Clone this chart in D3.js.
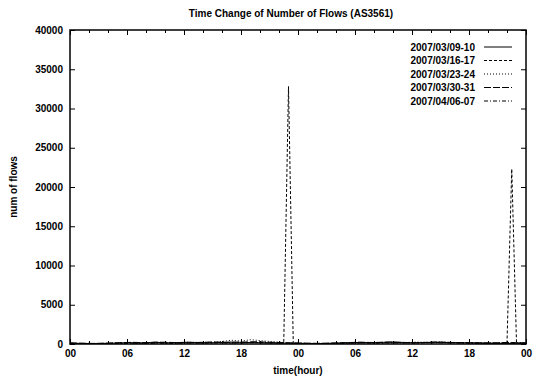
<!DOCTYPE html>
<html>
<head>
<meta charset="utf-8">
<script src="https://cdn.jsdelivr.net/npm/d3@7"></script>
<style>
  body { margin: 0; background: #fff; }
  svg text { font-family: "Liberation Sans", Arial, sans-serif; fill: #000; }
</style>
</head>
<body>
<div id="chart"></div>
<script>
// series names (legend order)
const seriesNames = ['2007/03/09-10', '2007/03/16-17', '2007/03/23-24', '2007/03/30-31', '2007/04/06-07'];

// samples every 30 minutes, 0..48 hours (97 points per series)
const s0309 = [
  120, 95, 80, 70, 65, 60, 70, 85, 90, 110, 130, 150,
  180, 160, 140, 150, 170, 200, 240, 180, 160, 150, 170, 190,
  210, 230, 200, 190, 180, 170, 160, 180, 200, 220, 250, 230,
  210, 190, 180, 170, 160, 150, 140, 130, 120, 110, 100, 95,
  90, 80, 75, 70, 65, 70, 80, 95, 110, 130, 150, 170,
  180, 200, 190, 170, 160, 180, 210, 230, 250, 220, 200, 180,
  170, 160, 180, 190, 210, 230, 220, 200, 190, 180, 170, 160,
  150, 140, 130, 120, 110, 100, 95, 90, 85, 80, 90, 100,
  110
];
const s0316 = [
  60, 55, 50, 45, 40, 45, 50, 60, 70, 80, 90, 100,
  110, 120, 100, 90, 110, 130, 150, 140, 120, 110, 100, 120,
  140, 160, 150, 130, 120, 140, 160, 180, 170, 150, 140, 130,
  150, 170, 190, 210, 180, 160, 150, 140, 130, 120, 32800, 150,
  90, 70, 60, 55, 50, 55, 60, 70, 80, 95, 110, 120,
  130, 140, 150, 160, 150, 140, 130, 150, 170, 180, 160, 150,
  140, 150, 160, 170, 180, 190, 200, 180, 160, 150, 140, 130,
  120, 110, 100, 90, 80, 90, 100, 120, 140, 22300, 150, 110,
  100
];
const s0323 = [
  80, 70, 60, 50, 45, 40, 45, 55, 70, 85, 100, 110,
  130, 150, 140, 120, 130, 150, 170, 160, 150, 140, 160, 180,
  200, 220, 210, 190, 180, 200, 220, 260, 320, 400, 480, 420,
  380, 460, 540, 500, 430, 380, 330, 280, 240, 200, 160, 130,
  110, 90, 80, 70, 65, 60, 70, 80, 90, 100, 120, 140,
  160, 180, 170, 150, 160, 180, 200, 190, 170, 160, 180, 200,
  220, 240, 230, 210, 200, 220, 240, 230, 210, 190, 180, 170,
  160, 150, 140, 130, 120, 110, 100, 120, 140, 160, 130, 110,
  100
];
const s0330 = [
  150, 130, 110, 95, 85, 80, 85, 95, 110, 130, 150, 170,
  190, 210, 200, 180, 170, 190, 210, 230, 220, 200, 190, 180,
  170, 160, 180, 200, 220, 240, 260, 250, 230, 210, 200, 220,
  240, 260, 280, 300, 270, 250, 230, 210, 190, 170, 150, 130,
  120, 110, 100, 90, 85, 90, 100, 115, 130, 150, 170, 190,
  210, 230, 220, 200, 190, 210, 230, 250, 240, 220, 200, 190,
  180, 170, 190, 210, 230, 250, 240, 220, 200, 190, 180, 170,
  160, 150, 140, 130, 120, 140, 160, 180, 200, 190, 170, 150,
  140
];
const s0406 = [
  40, 35, 30, 30, 25, 30, 35, 45, 55, 70, 80, 90,
  100, 110, 105, 95, 90, 100, 115, 130, 120, 110, 100, 110,
  120, 130, 125, 115, 110, 120, 135, 150, 140, 130, 125, 135,
  145, 160, 175, 190, 170, 150, 140, 130, 120, 110, 100, 90,
  80, 70, 60, 55, 50, 55, 60, 70, 85, 100, 110, 120,
  130, 140, 135, 125, 120, 130, 145, 160, 150, 140, 130, 140,
  150, 160, 170, 180, 175, 165, 155, 145, 140, 135, 130, 125,
  120, 115, 110, 105, 100, 95, 90, 100, 110, 120, 110, 100,
  90
];
const seriesValues = [s0309, s0316, s0323, s0330, s0406];
const dashes = [null, '3,2', '1,2', '7,2', '4,2,1,2'];

const xTicks = d3.range(0, 49, 6);
const xMinorTicks = d3.range(0, 49, 2).filter(d => d % 6 !== 0);
const yTicks = d3.range(0, 40001, 5000);

const width = 536, height = 378;
const margin = { top: 30, right: 10, bottom: 34, left: 70 };

const svg = d3.select('#chart')
  .append('svg')
  .attr('width', width)
  .attr('height', height)
  .style('display', 'block');

const x = d3.scaleLinear().domain([0, 48]).range([margin.left, width - margin.right]);
const y = d3.scaleLinear().domain([0, 40000]).range([height - margin.bottom, margin.top]);

const fmtHour = d => String(d % 24).padStart(2, '0');

// clip for lines
svg.append('defs').append('clipPath').attr('id', 'plot')
  .append('rect')
  .attr('x', x(0)).attr('y', y(40000))
  .attr('width', x(48) - x(0)).attr('height', y(0) - y(40000));

// axes: ticks point inward, mirrored on top/right
const axisStyle = g => {
  g.select('.domain').remove();
  g.selectAll('line').attr('stroke', '#000');
  g.selectAll('text').style('font-size', '10px').style('font-weight', 'bold');
};

svg.append('g')
  .attr('transform', `translate(0,${y(0)})`)
  .call(d3.axisBottom(x).tickValues(xTicks).tickFormat(fmtHour).tickSize(-5).tickPadding(6))
  .call(axisStyle);
svg.append('g')
  .attr('transform', `translate(0,${y(0)})`)
  .call(d3.axisBottom(x).tickValues(xMinorTicks).tickFormat('').tickSize(-3))
  .call(axisStyle);
svg.append('g')
  .attr('transform', `translate(0,${y(40000)})`)
  .call(d3.axisTop(x).tickValues(xTicks).tickFormat('').tickSize(-5))
  .call(axisStyle);
svg.append('g')
  .attr('transform', `translate(0,${y(40000)})`)
  .call(d3.axisTop(x).tickValues(xMinorTicks).tickFormat('').tickSize(-3))
  .call(axisStyle);
svg.append('g')
  .attr('transform', `translate(${x(0)},0)`)
  .call(d3.axisLeft(y).tickValues(yTicks).tickFormat(d3.format('d')).tickSize(-5).tickPadding(7))
  .call(axisStyle);
svg.append('g')
  .attr('transform', `translate(${x(48)},0)`)
  .call(d3.axisRight(y).tickValues(yTicks).tickFormat('').tickSize(-5))
  .call(axisStyle);

// frame
svg.append('rect')
  .attr('x', x(0)).attr('y', y(40000))
  .attr('width', x(48) - x(0)).attr('height', y(0) - y(40000))
  .attr('fill', 'none')
  .attr('stroke', '#000')
  .attr('stroke-width', 1.5);

// series lines
const line = d3.line()
  .x((d, i) => x(i * 0.5))
  .y(d => y(d));

svg.append('g')
  .attr('clip-path', 'url(#plot)')
  .selectAll('path')
  .data(seriesValues)
  .enter().append('path')
  .attr('d', line)
  .attr('fill', 'none')
  .attr('stroke', '#000')
  .attr('stroke-width', 1)
  .attr('stroke-dasharray', (d, i) => dashes[i]);

// legend
const legend = svg.append('g')
  .selectAll('g')
  .data(seriesNames)
  .enter().append('g')
  .attr('transform', (d, i) => `translate(0,${47 + i * 13.5})`);

legend.append('text')
  .attr('x', 475)
  .attr('dy', '0.35em')
  .attr('text-anchor', 'end')
  .style('font-size', '10px')
  .style('font-weight', 'bold')
  .text(d => d);

legend.append('line')
  .attr('x1', 484).attr('x2', 512)
  .attr('stroke', '#000')
  .attr('stroke-width', 1)
  .attr('stroke-dasharray', (d, i) => dashes[i]);

// title and axis labels
svg.append('text')
  .attr('x', 291).attr('y', 17)
  .attr('text-anchor', 'middle')
  .style('font-size', '10px')
  .style('font-weight', 'bold')
  .text('Time Change of Number of Flows (AS3561)');

svg.append('text')
  .attr('x', x(24)).attr('y', 374)
  .attr('text-anchor', 'middle')
  .style('font-size', '10px')
  .style('font-weight', 'bold')
  .text('time(hour)');

svg.append('text')
  .attr('transform', `translate(17,${y(20000)}) rotate(-90)`)
  .attr('text-anchor', 'middle')
  .style('font-size', '10px')
  .style('font-weight', 'bold')
  .text('num of flows');
</script>
</body>
</html>
